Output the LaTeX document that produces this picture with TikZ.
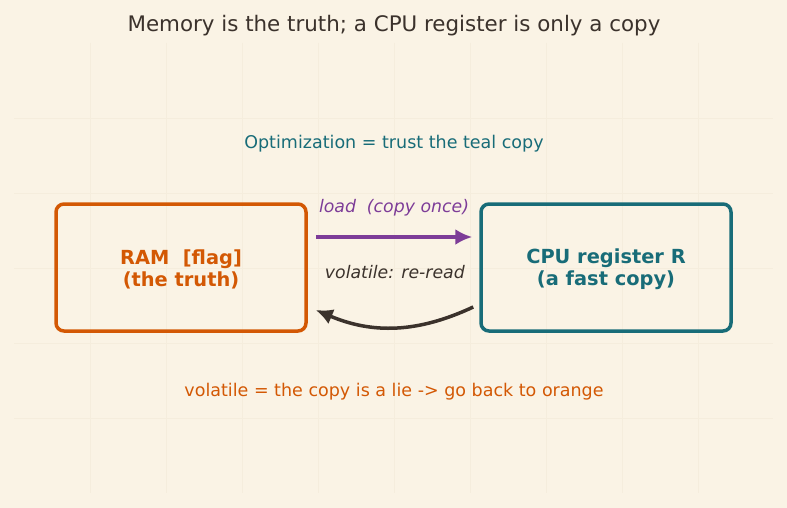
\documentclass[tikz,border=0pt]{standalone}
\usepackage{fontspec}
\setmainfont{DejaVu Sans}
\usetikzlibrary{arrows.meta, positioning}
\definecolor{paper}{RGB}{250,243,229}
\definecolor{gridline}{RGB}{245,237,221}
\definecolor{ink}{RGB}{59,50,44}
\definecolor{ramorange}{RGB}{211,88,4}
\definecolor{regteal}{RGB}{24,108,120}
\definecolor{loadpurple}{RGB}{125,60,152}
\tikzset{
    titletext/.style={font=\fontsize{21.4}{25}\selectfont, text=ink},
    notetext/.style={font=\fontsize{17.5}{21}\selectfont},
    membox/.style={draw=ramorange, rectangle, rounded corners=8pt, line width=3.5pt, minimum width=250pt, minimum height=127pt, align=center, text=ramorange, font=\fontsize{19.4}{22}\selectfont\bfseries},
    regbox/.style={membox, draw=regteal, text=regteal},
    arrowlabel/.style={font=\fontsize{17.3}{20}\selectfont\itshape},
    loadarrow/.style={-{Latex[length=17pt,width=16pt]}, line width=3.5pt, draw=loadpurple},
    rereadarrow/.style={-{Latex[length=17pt,width=16pt]}, line width=3.5pt, draw=ink}
}
\newcommand{\topstrut}{\rule{0pt}{19pt}}
\begin{document}
\begin{tikzpicture}[x=1pt, y=-1pt]

        % Sfondo e griglia
        \fill[paper] (0,0) rectangle (787,508);
        \useasboundingbox (0,0) rectangle (787,508);
        \foreach \gx in {90,166,...,698} \draw[gridline, line width=0.8pt] (\gx,43) -- (\gx,493);
        \foreach \gy in {118,193,...,418} \draw[gridline, line width=0.8pt] (14,\gy) -- (773,\gy);

        % Titolo e note
        \node (titolo) [titletext] at (394,25.5) {Memory is the truth; a CPU register is only a copy};
        \node (ottim) [notetext, text=regteal] at (394,143.5) {Optimization = trust the teal copy};
        \node (nota) [notetext, text=ramorange] at (394,392) {volatile = the copy is a lie -> go back to orange};

        % Memoria e registro
        \node (ram) [membox] at (181,267.5) {\topstrut RAM~~[flag]\\(the truth)};
        \node (reg) [regbox] at (606,267.5) {\topstrut CPU register R\\(a fast copy)};

        % Connessioni
        \draw [loadarrow] ([xshift=8pt, yshift=30.5pt]ram.east) -- node (lblload) [above=16pt, arrowlabel, text=loadpurple] {load~~(copy once)} ([xshift=-7pt, yshift=30.5pt]reg.west);
        \draw [rereadarrow] ([xshift=-6pt, yshift=-39.5pt]reg.west) to [bend left=24] node (lblread) [above=43pt, arrowlabel, text=ink] {volatile: re-read} ([xshift=8pt, yshift=-42.5pt]ram.east);

    \end{tikzpicture}
\end{document}
